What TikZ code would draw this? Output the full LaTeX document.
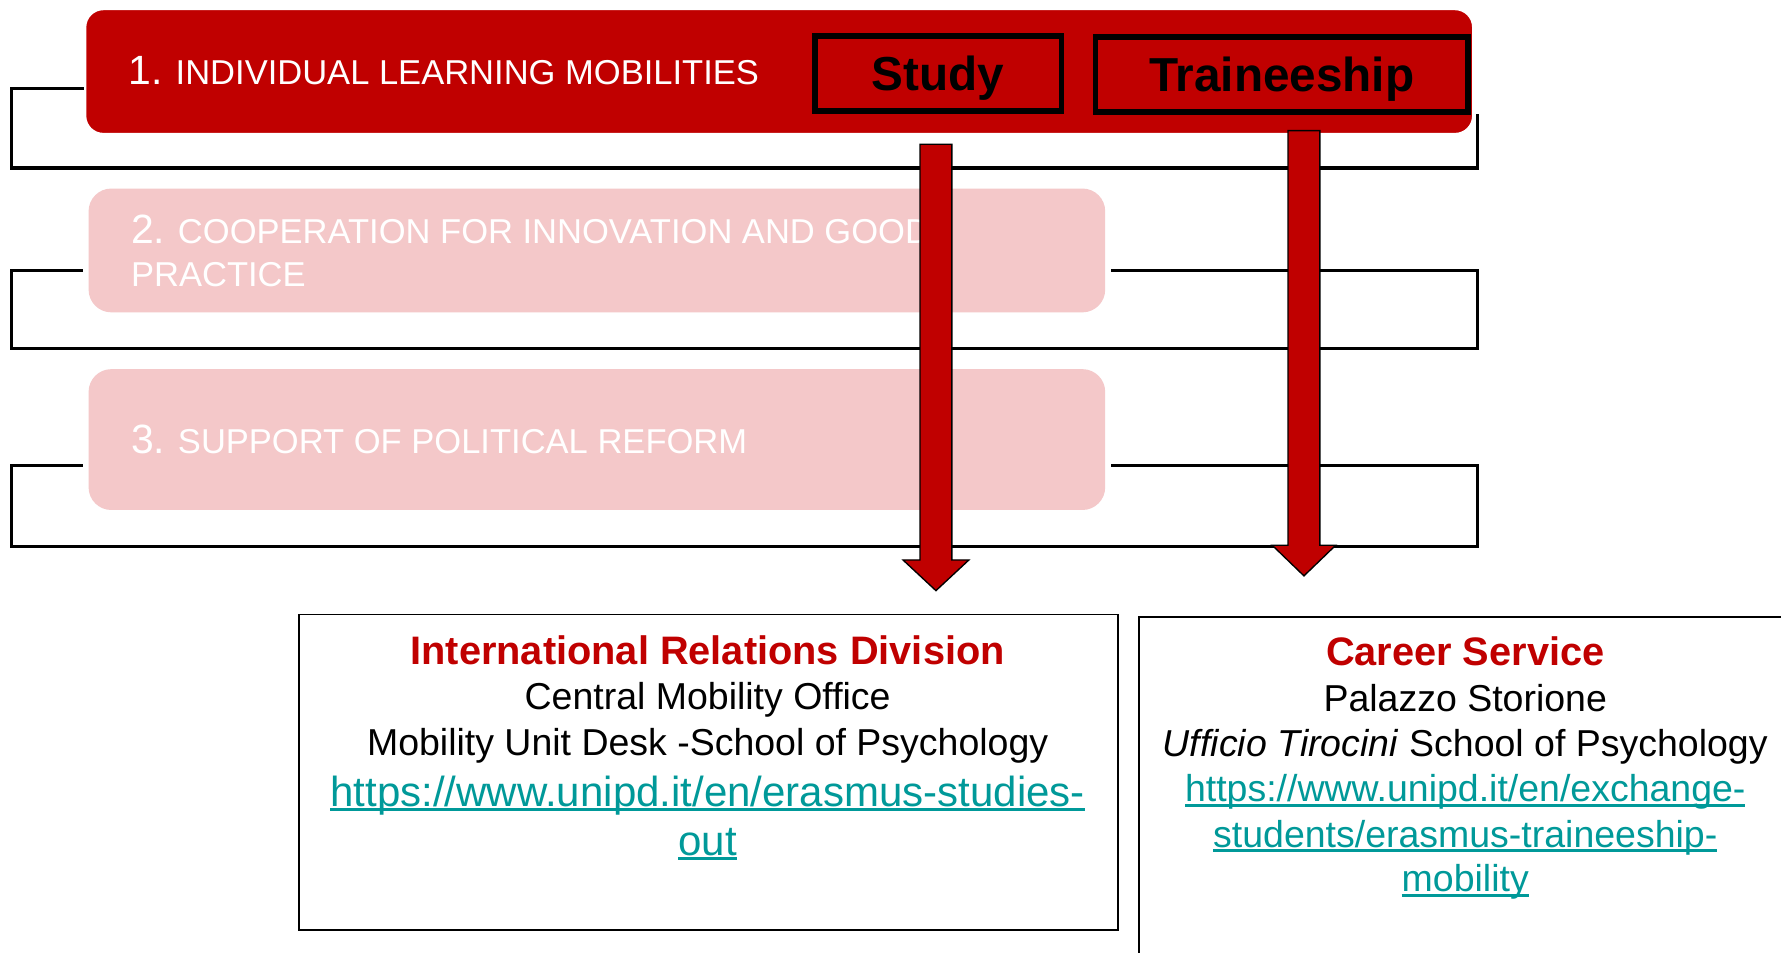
\documentclass[tikz,border=0pt]{standalone}
\usepackage{fontspec}
\setmainfont{Liberation Sans}
\definecolor{erred}{RGB}{192,0,0}
\definecolor{erpink}{RGB}{244,200,201}
\definecolor{erteal}{RGB}{0,153,153}
\newcommand\linkul[1]{\setbox0\hbox{#1}\rlap{\color{erteal}\rule[-2.2pt]{\wd0}{1.3pt}}\box0}
\begin{document}
\begin{tikzpicture}[x=0.5pt,y=-0.5pt,
  bracket/.style={line width=1.5pt, line join=miter},
  tabbox/.style={draw=black, line width=2.5pt, fill=erred, inner sep=0pt, outer sep=0pt,
    font=\fontsize{21}{24}\selectfont\bfseries, text height=15pt, text depth=0pt},
  bigarrow/.style={fill=erred, draw=black, line width=0.6pt, line join=miter},
  catbox/.style={rounded corners=10pt},
  cattext/.style={anchor=base west, text=white, inner sep=0pt, font=\fontsize{15.2}{18}\selectfont},
  infobox/.style={draw=black, line width=0.8pt},
  infoline/.style={anchor=base, inner sep=0pt, font=\fontsize{16.5}{20}\selectfont},
  infohead/.style={anchor=base, inner sep=0pt, text=erred, font=\fontsize{17.5}{20}\selectfont\bfseries},
  infolink/.style={anchor=base, inner sep=0pt, text=erteal},
]
\clip (0,0) rectangle (1568,839);
\fill[white] (0,0) rectangle (1568,839);

% brackets
\draw[bracket] (75,78) -- (10,78) -- (10,148) -- (1301,148) -- (1301,100);
\draw[bracket] (73,238) -- (10,238) -- (10,307) -- (1301,307) -- (1301,238) -- (978,238);
\draw[bracket] (73,410) -- (10,410) -- (10,481) -- (1301,481) -- (1301,410) -- (978,410);

% category boxes
\draw[catbox, fill=erred, draw=white, line width=1pt, rounded corners=8pt] (75,8) rectangle (1297,118);
\fill[catbox, erpink] (78,166) rectangle (973,275);
\fill[catbox, erpink] (78,325) rectangle (973,449);

\node[cattext] (c1) at (113,74) {{\fontsize{18}{20}\selectfont 1.} INDIVIDUAL LEARNING MOBILITIES};
\node[cattext] (c2) at (115,214) {{\fontsize{18}{20}\selectfont 2.} COOPERATION FOR INNOVATION AND GOOD};
\node[cattext] (c2b) at (115,252) {PRACTICE};
\node[cattext] (c3) at (115,399) {{\fontsize{18}{20}\selectfont 3.} SUPPORT OF POLITICAL REFORM};

% tabs
\node[tabbox, minimum width=108.5pt, minimum height=33pt] (study) at (826,64.5) {Study};
\node[tabbox, minimum width=164pt, minimum height=33pt] (train) at (1128.5,65.5) {Traineeship};

% info boxes
\draw[infobox] (263,541) rectangle (984,819);
\coordinate (irdtop) at (623,541);
\draw[infobox] (1003,543) rectangle (1620,900);
\coordinate (cstop) at (1290,543);

\node[infohead] (ird) at (623,585) {International Relations Division};
\node[infoline] (cmo) at (623,625) {Central Mobility Office};
\node[infoline] (mud) at (623,665) {Mobility Unit Desk -School of Psychology};
\node[infolink, font=\fontsize{18.5}{20}\selectfont] (url1a) at (623,710) {\linkul{https://www.unipd.it/en/erasmus-studies-}};
\node[infolink, font=\fontsize{18.5}{20}\selectfont] (url1b) at (623,753) {\linkul{out}};

\node[infohead] (cs) at (1290,586) {Career Service};
\node[infoline] (ps) at (1290,626) {Palazzo Storione};
\node[infoline] (ut) at (1290,666) {\textit{Ufficio Tirocini} School of Psychology};
\node[infolink, font=\fontsize{16.5}{20}\selectfont] (url2a) at (1290,706) {\linkul{https://www.unipd.it/en/exchange-}};
\node[infolink, font=\fontsize{16.5}{20}\selectfont] (url2b) at (1290,746) {\linkul{students/erasmus-traineeship-}};
\node[infolink, font=\fontsize{16.5}{20}\selectfont] (url2c) at (1290,785) {\linkul{mobility}};

% block arrows
\draw[bigarrow] (810,127) -- (838,127) -- (838,493) -- (853,493) -- (824,520) -- (795,493) -- (810,493) -- cycle;
\draw[bigarrow] (1134,115) -- (1162,115) -- (1162,480) -- (1176,480) -- (1148,507) -- (1120,480) -- (1134,480) -- cycle;
\end{tikzpicture}
\end{document}
